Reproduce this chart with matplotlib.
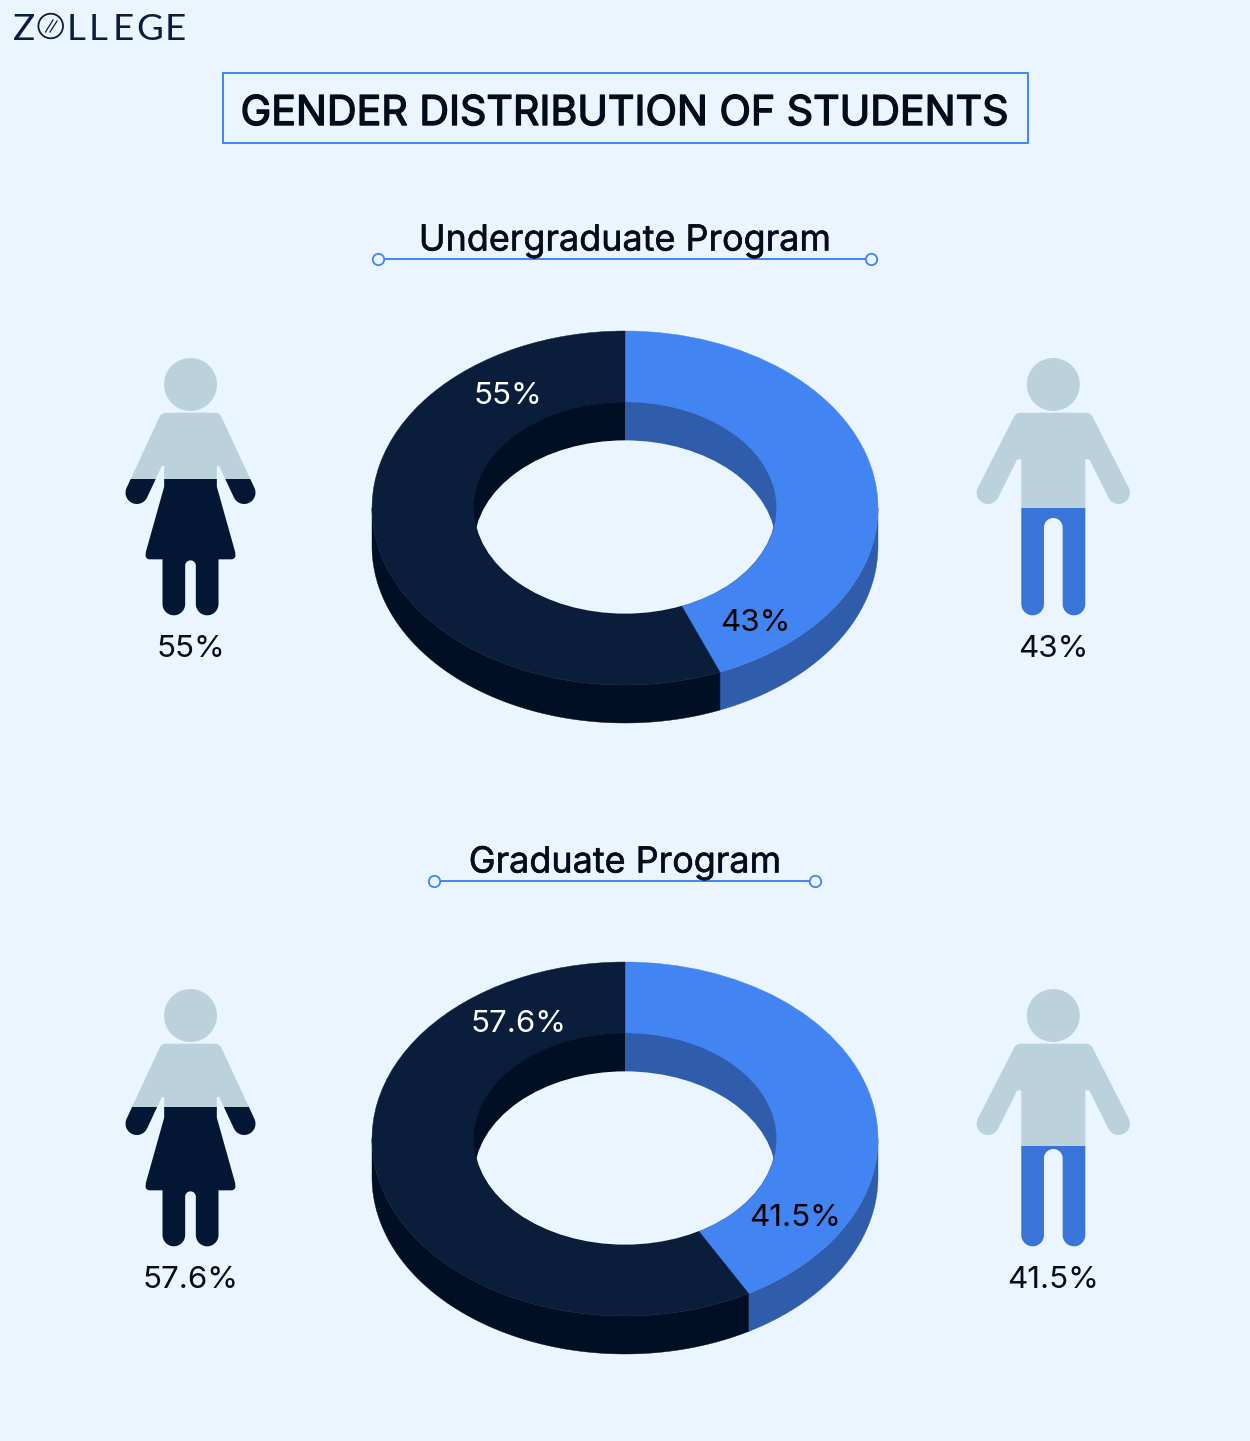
import numpy as np
import matplotlib
matplotlib.use("Agg")
import matplotlib.pyplot as plt
import matplotlib.patheffects as pe
from matplotlib.patches import Wedge, Ellipse, Rectangle, Polygon, Circle
from matplotlib.transforms import Affine2D

# ---- data ----
programs = ["Undergraduate Program", "Graduate Program"]
female_pct = [55, 57.6]
male_pct = [43, 41.5]
female_labels = ["55%", "57.6%"]
male_labels = ["43%", "41.5%"]
female_fill = [0.529, 0.541]   # filled share of the icon, as drawn
male_fill = [0.416, 0.389]
title = "GENDER DISTRIBUTION OF STUDENTS"

BG = "#EAF5FF"; BLUE = "#4384F3"; DARK = "#0A1D3A"; BLUE_W = "#2F5DAB"; DARK_W = "#010F24"
LIGHT = "#BBD2DD"; ICON_F = "#031633"; ICON_M = "#3A74D8"; LINE = "#4384F3"; INK = "#050B18"
FONT = ["Inter", "DejaVu Sans"]

W, H = 1250, 1441
fig = plt.figure(figsize=(W/100, H/100), dpi=100, facecolor=BG)
ax = fig.add_axes([0, 0, 1, 1])
ax.set_xlim(0, W); ax.set_ylim(H, 0); ax.axis("off")

def heavy(w, col):
    return [pe.withStroke(linewidth=w, foreground=col)]

def arc(cx, cy, r, a0, a1, n=24):
    t = np.radians(np.linspace(a0, a1, n))
    return np.c_[cx + r*np.cos(t), cy + r*np.sin(t)]

def female_shape():
    # left half, in 3x-zoom icon units, y down
    left = np.vstack([
        [[241, 218], [168, 218]],
        arc(168, 240, 22, -90, -156, 8),
        arc(80, 458, 34, 204, 24, 24),
        [[155, 378], [162, 378], [162, 440], [107, 636]],
        arc(118, 646, 12, 170, 90, 6),
        [[157, 658]],
        arc(191, 792, 34, 180, 0, 20),
        [[225, 677]],
        arc(241, 677, 16, 180, 270, 8),
    ])
    return left, 241

def male_shape():
    left = np.vstack([
        [[250, 218], [152, 218]],
        arc(152, 240, 22, -90, -150, 8),
        arc(54, 458, 34, 207, 27, 24),
        [[138, 366]],
        arc(146, 366, 8, 200, 270, 4),
        [[154, 358]],
        [[154, 792]],
        arc(188, 792, 34, 180, 0, 20),
        [[222, 562]],
        arc(250, 562, 28, 180, 270, 10),
    ])
    return left, 250

def draw_person(shape, px_cx, dy, fill, color):
    half, cx = shape
    pts = np.vstack([half, (half*[-1, 1] + [2*cx, 0])[::-1]])
    xy = np.c_[px_cx + (pts[:, 0]-cx)/3, 340 + dy + pts[:, 1]/3]
    top = 358 + dy; bot = 615.7 + dy
    split = bot - fill*(bot-top)
    head = (px_cx, 384.5+dy)
    for col, y0, y1 in ((LIGHT, top-2, split), (color, split, bot+2)):
        clip = Rectangle((0, y0), W, y1-y0, transform=ax.transData)
        p = Polygon(xy, closed=True, fc=col, ec="none", zorder=5)
        ax.add_patch(p); p.set_clip_path(clip)
    ax.add_patch(Circle(head, 26.5, fc=LIGHT, ec="none", zorder=5))

def donut(cy, female, male):
    cx, R, r, depth = 625, 253, 151, 38
    sq = 177/253
    total = female + male
    sweep = 360*male/total
    # screen y is down, so increasing theta runs clockwise on screen
    start, mid, end = -90, -90+sweep, 270
    def tr(y):
        return Affine2D().scale(1, sq).translate(cx, y) + ax.transData
    for col, a0, a1 in ((BLUE_W, start, mid), (DARK_W, mid, end)):
        lo, hi = max(a0, 0), min(a1, 180)
        t = np.radians(np.linspace(lo, hi, 180))
        x = cx + R*np.cos(t); y = cy + R*sq*np.sin(t)
        ax.fill(np.r_[x, x[::-1]], np.r_[y, y[::-1]+depth], fc=col, ec=col, lw=0.3, zorder=1)
    for col, a0, a1 in ((BLUE, start, mid), (DARK, mid, end)):
        ax.add_patch(Wedge((0, 0), R, a0, a1, width=R-r, fc=col, ec=col, lw=0.3,
                           transform=tr(cy), zorder=2))
    hole_clip = Ellipse((0, 0), 2*r, 2*r, transform=tr(cy))
    for col, a0, a1 in ((BLUE_W, start, mid), (DARK_W, mid, end)):
        ax.add_patch(Wedge((0, 0), r+0.5, a0, a1, fc=col, ec="none", transform=tr(cy), zorder=3))
    h = Ellipse((0, 0), 2*r, 2*r, fc=BG, ec="none", transform=tr(cy+depth), zorder=4)
    ax.add_patch(h); h.set_clip_path(hole_clip)

# ---- logo ----
for ch, x in zip("ZLLEGE", [13, 67, 89, 113, 136, 165]):
    ax.text(x, 40, ch, family=["Lato", "DejaVu Sans"], fontsize=26.5, color=DARK, ha="left", va="baseline")
ax.add_patch(Circle((50.7, 26), 12.3, fc="none", ec=DARK, lw=1.3))
ax.plot([45.5, 53], [32, 20], color=DARK, lw=0.9)
ax.plot([50, 57], [32, 21], color=DARK, lw=0.9)

# ---- title ----
ax.add_patch(Rectangle((222.5, 72.5), 805, 70, fc="none", ec=LINE, lw=1.4))
ax.text(625, 114, title, family=FONT, fontsize=29.6, color=INK, ha="center", va="center",
        path_effects=heavy(1.0, INK))

# ---- rows ----
label_pos_f = [(507.5, 396), (518.5, 1024)]
label_pos_m = [(755, 623), (795.5, 1218.5)]
heads = [(241, 259, 378, 871), (863, 881, 434, 815)]
for i, prog in enumerate(programs):
    dy = 631*i
    ty, ly, x0, x1 = heads[i]
    ax.text(625, ty, prog, family=FONT, fontsize=25.9, color=INK, ha="center", va="center",
            path_effects=heavy(0.4, INK))
    ax.plot([x0, x1], [ly, ly], color=LINE, lw=1.4, zorder=1,
            marker="o", markevery=[0, 1], ms=8.2, mfc=BG, mec=LINE, mew=1.3)
    donut(508+dy, female_pct[i], male_pct[i])
    ax.text(*label_pos_f[i], female_labels[i], family=FONT, fontsize=22.6, color="white", ha="center", va="center", zorder=6)
    ax.text(*label_pos_m[i], male_labels[i], family=FONT, fontsize=22.6, color="black", ha="center", va="center", zorder=6)
    draw_person(female_shape(), 190.5, dy, female_fill[i], ICON_F)
    draw_person(male_shape(), 1053.3, dy, male_fill[i], ICON_M)
    ax.text(190.5, 649+dy, female_labels[i], family=FONT, fontsize=22.6, color=INK, ha="center", va="center", zorder=6)
    ax.text(1053.3, 649+dy, male_labels[i], family=FONT, fontsize=22.6, color=INK, ha="center", va="center", zorder=6)

fig.savefig("out.png", dpi=100, facecolor=BG)
